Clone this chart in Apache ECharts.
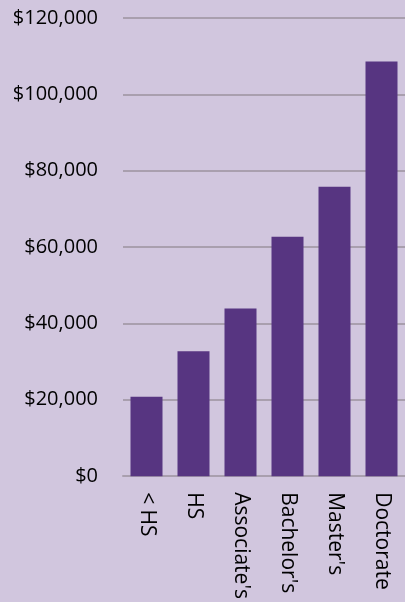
<!DOCTYPE html>
<html><head><meta charset="utf-8">
<script src="https://cdn.jsdelivr.net/npm/echarts@6/dist/echarts.min.js"></script>
<style>html,body{margin:0;padding:0;background:#d1c6de;}#c{width:405px;height:602px;}</style>
</head><body><div id="c"></div>
<script>
const categories = ["< HS", "HS", "Associate's", "Bachelor's", "Master's", "Doctorate"];
const earnings = [20800, 32700, 43900, 62700, 75800, 108600];
const yTicks = [0, 20000, 40000, 60000, 80000, 100000, 120000];

const chart = echarts.init(document.getElementById('c'));
chart.setOption({
  backgroundColor: '#d1c6de',
  animation: false,
  grid: {left: 123, top: 18, width: 283, height: 459, containLabel: false},
  xAxis: {
    type: 'category', data: categories,
    axisLine: {show: true, lineStyle: {color: '#a99fae', width: 2}},
    axisTick: {show: false},
    axisLabel: {rotate: -90, margin: 16, color: '#000', fontFamily: 'Open Sans', fontSize: 21, interval: 0}
  },
  yAxis: {
    type: 'value', min: yTicks[0], max: yTicks[yTicks.length-1], interval: 20000,
    axisLine: {show: false}, axisTick: {show: false},
    splitLine: {lineStyle: {color: '#a99fae', width: 2}},
    axisLabel: {margin: 25, color: '#000', fontFamily: 'Open Sans', fontSize: 20,
      formatter: v => '$' + v.toLocaleString('en-US')}
  },
  series: [{type: 'bar', data: earnings, barWidth: 32, itemStyle: {color: '#573581'}}]
});
</script></body></html>
